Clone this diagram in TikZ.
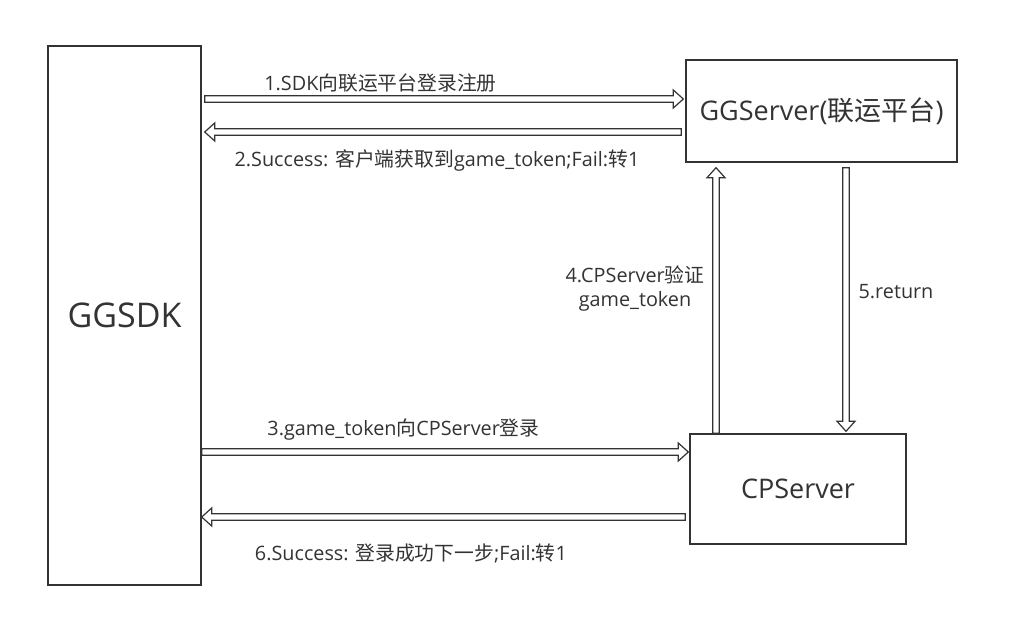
\documentclass[tikz,border=0pt]{standalone}
\usepackage{fontspec}
\setmainfont{Open Sans}
\newfontfamily\cjk{Noto Sans CJK SC}
\usetikzlibrary{calc}
\definecolor{ink}{HTML}{333333}
\begin{document}
\begin{tikzpicture}[x=1pt,y=-1pt]
\tikzset{
  box/.style={draw=ink, line width=1.4pt, text=ink, inner sep=0pt},
  lbl/.style={text=ink, font=\fontsize{19.8}{24}\selectfont, inner sep=0pt},
  blk/.style={draw=ink, line width=1.2pt, fill=white, line join=miter, to path={
    ($(\tikztostart)!3.2pt!90:(\tikztotarget)$) --
    ($(\tikztotarget)!10pt!(\tikztostart)!3.2pt!-90:(\tikztostart)$) --
    ($(\tikztotarget)!10pt!(\tikztostart)!9pt!-90:(\tikztostart)$) --
    (\tikztotarget) --
    ($(\tikztotarget)!10pt!(\tikztostart)!9pt!90:(\tikztostart)$) --
    ($(\tikztotarget)!10pt!(\tikztostart)!3.2pt!90:(\tikztostart)$) --
    ($(\tikztostart)!3.2pt!-90:(\tikztotarget)$) -- cycle}}
}
\useasboundingbox (0,0) rectangle (1024,617);
\fill[white] (0,0) rectangle (1024,617);

% boxes
\node[box, minimum width=153, minimum height=539, font=\fontsize{34}{40}\selectfont] (sdk) at (124.5,315.5) {GGSDK};
\node[box, minimum width=271, minimum height=102, font=\fontsize{27}{32}\selectfont] (gg) at (821.5,111) {GGServer({\cjk 联运平台})};
\node[box, minimum width=216, minimum height=110, font=\fontsize{27}{32}\selectfont] (cp) at (798,489) {CPServer};

% helper coordinates for arrow rows/columns
\coordinate (y1) at (0,99);
\coordinate (y2) at (0,132);
\coordinate (y3) at (0,452);
\coordinate (y6) at (0,517);
\coordinate (x4) at (716,0);
\coordinate (x5) at (846,0);

% connectors
\draw[blk] ([xshift=3pt]sdk.east |- y1) to ([xshift=-2pt]gg.west |- y1);
\draw[blk] ([xshift=-4pt]gg.west |- y2) to ([xshift=3pt]sdk.east |- y2);
\draw[blk] (sdk.east |- y3) to ([xshift=-1pt]cp.west |- y3);
\draw[blk] ([xshift=-4pt]cp.west |- y6) to (sdk.east |- y6);
\draw[blk] (cp.north -| x4) to ([yshift=-5pt]gg.south -| x4);
\draw[blk] ([yshift=-5pt]gg.south -| x5) to ([yshift=2pt]cp.north -| x5);

% labels
\node[lbl] (l1) at (380.5,83) {1.SDK{\cjk 向联运平台登录注册}};
\node[lbl] (l2) at (437,160) {2.Success: {\cjk 客户端获取到}game\_token;Fail:{\cjk 转}1};
\node[lbl] (l3) at (403.5,430) {3.game\_token{\cjk 向}CPServer{\cjk 登录}};
\node[lbl] (l6) at (411,553) {6.Success: {\cjk 登录成功下一步};Fail:{\cjk 转}1};
\node[lbl, align=center] (l4) at (635,288) {4.CPServer{\cjk 验证}\\game\_token};
\node[lbl] (l5) at (896,292) {5.return};
\end{tikzpicture}
\end{document}
